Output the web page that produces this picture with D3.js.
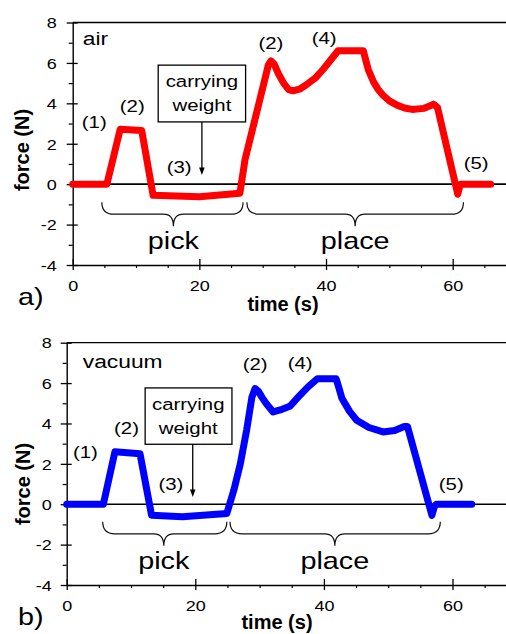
<!DOCTYPE html>
<html>
<head>
<meta charset="utf-8">
<script src="https://cdn.jsdelivr.net/npm/d3@7"></script>
<style>
  body { margin: 0; background: #fff; }
  svg { display: block; }
  text { font-family: "Liberation Sans", Arial, sans-serif; }
</style>
</head>
<body>
<svg id="chart" width="506" height="634"></svg>
<script>
// axis ticks
const yTicks = [-4, -2, 0, 2, 4, 6, 8];
const yMinor = [-3, -1, 1, 3, 5, 7];
const xTicks = [0, 20, 40, 60];
const xMinor = [5, 10, 15, 25, 30, 35, 45, 50, 55, 65];

// a) air
const airTime  = [0, 5.4, 7.5, 10.9, 12.7, 20, 26.4, 27.2, 30.9, 31.3, 31.8, 32.5, 33.3, 34.1, 34.8, 35.8, 36.9, 38.3, 39.6, 41.9, 45.9, 46.3, 46.7, 47.5, 48.2, 49.0, 50.0, 51.2, 52.4, 53.6, 55.4, 57.0, 57.6, 60.8, 61.2, 66];
const airForce = [0, 0, 2.72, 2.65, -0.55, -0.62, -0.45, 1.2, 5.9, 6.1, 5.95, 5.45, 5.0, 4.68, 4.62, 4.7, 4.92, 5.25, 5.7, 6.6, 6.6, 6.1, 5.64, 5.06, 4.7, 4.4, 4.12, 3.91, 3.77, 3.7, 3.75, 3.95, 3.8, -0.5, 0, 0];

// b) vacuum
const vacTime  = [0, 5.7, 7.5, 11.4, 13.2, 18, 24.9, 26, 27, 28, 28.8, 29.3, 29.8, 30.4, 31, 32.1, 33.5, 34.7, 36, 37.5, 39, 41.9, 42.3, 42.8, 44, 45.1, 47, 49.2, 51, 52.5, 53, 56.8, 57.2, 57.5, 63];
const vacForce = [0, 0, 2.6, 2.5, -0.55, -0.62, -0.46, 0.7, 2.0, 3.7, 5.3, 5.73, 5.6, 5.28, 5.0, 4.57, 4.7, 4.85, 5.3, 5.8, 6.22, 6.22, 5.8, 5.25, 4.6, 4.16, 3.8, 3.58, 3.65, 3.85, 3.85, -0.55, -0.1, 0, 0];

// annotation labels (time, force)
const airNotes = [
  { text: "(1)", t: 3.4, f: 2.77 }, { text: "(2)", t: 9.4, f: 3.56 }, { text: "(3)", t: 16.8, f: 0.54 },
  { text: "(2)", t: 31.3, f: 6.68 }, { text: "(4)", t: 39.7, f: 6.93 }, { text: "(5)", t: 63.7, f: 0.74 }
];
const vacNotes = [
  { text: "(1)", t: 2.9, f: 2.27 }, { text: "(2)", t: 9.3, f: 3.47 }, { text: "(3)", t: 16.2, f: 0.69 },
  { text: "(2)", t: 29.3, f: 6.63 }, { text: "(4)", t: 36.3, f: 6.68 }, { text: "(5)", t: 59.8, f: 0.69 }
];
const phases = ["pick", "place"];

const svg = d3.select("#chart");
const SX = 1.2; // labels in the figure are a bit wide

const panels = [
  {
    name: "air", tag: "a)", color: "#ff0000", time: airTime, force: airForce, notes: airNotes,
    left: 72.7, kx: 6.333, top: 22.5, bottom: 265,
    nameAt: [1.6, 6.88],
    box: { t1: 13.5, t2: 27.3, f1: 5.89, f2: 3.08, tc: 20.4 }, arrow: { t: 20.4, f: 0.45 },
    braces: [{ t1: 4.6, t2: 26.9, tm: 15.9 }, { t1: 27.5, t2: 61.7, tm: 44.6 }], braceF: -0.89,
    yLabelGap: 16, yLabel: [21.7, 150], xLabel: [283, 311], tagAt: [18, 305]
  },
  {
    name: "vacuum", tag: "b)", color: "#0000ff", time: vacTime, force: vacForce, notes: vacNotes,
    left: 66.7, kx: 6.43, top: 342.7, bottom: 585,
    nameAt: [2.5, 6.73],
    box: { t1: 12.2, t2: 25.7, f1: 5.76, f2: 2.97, tc: 18.9 }, arrow: { t: 19.6, f: 0.36 },
    braces: [{ t1: 5.6, t2: 24.9, tm: 15.1 }, { t1: 25.4, t2: 58.1, tm: 41.7 }], braceF: -0.87,
    yLabelGap: 15, yLabel: [23, 484], xLabel: [277, 628.5], tagAt: [18, 625]
  }
];

function label(g, x, y, str, size, anchor, stretch) {
  return g.append("text")
    .attr("transform", `translate(${x},${y}) scale(${stretch},1)`)
    .attr("text-anchor", anchor)
    .style("font-size", size + "px")
    .attr("fill", "#000")
    .text(str);
}

function drawPanel(p) {
  const x = d3.scaleLinear().domain([0, 70]).range([p.left, p.left + 70 * p.kx]);
  const y = d3.scaleLinear().domain([-4, 8]).range([p.bottom, p.top]);
  const g = svg.append("g");

  // top frame + zero line
  g.append("line")
    .attr("x1", x(0)).attr("x2", x(70)).attr("y1", y(8)).attr("y2", y(8))
    .attr("stroke", "#000").attr("stroke-width", 1.3);
  g.append("line")
    .attr("x1", x(0)).attr("x2", x(70)).attr("y1", y(0)).attr("y2", y(0))
    .attr("stroke", "#000").attr("stroke-width", 1.6);

  // y axis
  const ya = g.append("g").attr("transform", `translate(${x(0)},0)`)
    .call(d3.axisLeft(y).tickValues(yTicks).tickSize(6).tickSizeOuter(0).tickFormat(d => String(d)));
  ya.select(".domain").attr("stroke-width", 1.4);
  ya.selectAll(".tick line").attr("x1", 5).attr("stroke-width", 1.3);
  ya.selectAll(".tick text")
    .attr("x", null).attr("dy", "0.35em")
    .attr("transform", `translate(${-p.yLabelGap},0) scale(${SX},1)`)
    .style("font-size", "15px").attr("fill", "#000");
  g.append("g").attr("transform", `translate(${x(0)},0)`)
    .call(d3.axisLeft(y).tickValues(yMinor).tickSize(4).tickFormat(""))
    .call(a => a.select(".domain").remove())
    .selectAll("line").attr("stroke-width", 1.2);

  // x axis
  const xa = g.append("g").attr("transform", `translate(0,${y(-4)})`)
    .call(d3.axisBottom(x).tickValues(xTicks).tickSize(5).tickSizeOuter(0).tickFormat(d => String(d)));
  xa.select(".domain").attr("stroke-width", 1.4);
  xa.selectAll(".tick line").attr("y1", -6).attr("stroke-width", 1.3);
  xa.selectAll(".tick text")
    .attr("y", 15.5)
    .attr("transform", `scale(${SX},1)`)
    .style("font-size", "15px").attr("fill", "#000");
  g.append("g").attr("transform", `translate(0,${y(-4)})`)
    .call(d3.axisBottom(x).tickValues(xMinor).tickSize(3).tickFormat(""))
    .call(a => a.select(".domain").remove())
    .selectAll("line").attr("stroke-width", 1.2);

  // axis titles
  g.append("text")
    .attr("transform", `translate(${p.yLabel[0]},${p.yLabel[1]}) rotate(-90)`)
    .attr("text-anchor", "middle").attr("dy", "0.35em")
    .style("font-size", "20px").style("font-weight", "bold")
    .text("force (N)");
  g.append("text")
    .attr("x", p.xLabel[0]).attr("y", p.xLabel[1])
    .attr("text-anchor", "middle")
    .style("font-size", "20px").style("font-weight", "bold")
    .text("time (s)");
  label(g, p.tagAt[0], p.tagAt[1], p.tag, 24, "start", SX);

  // braces under the curve
  p.braces.forEach((b, i) => {
    const x1 = x(b.t1), x2 = x(b.t2), xm = x(b.tm), y0 = y(p.braceF);
    const path = d3.path();
    path.moveTo(x1, y0);
    path.quadraticCurveTo(x1, y0 + 12, x1 + 12, y0 + 12);
    path.lineTo(xm - 10, y0 + 12);
    path.quadraticCurveTo(xm, y0 + 12, xm, y0 + 24);
    path.quadraticCurveTo(xm, y0 + 12, xm + 10, y0 + 12);
    path.lineTo(x2 - 12, y0 + 12);
    path.quadraticCurveTo(x2, y0 + 12, x2, y0);
    g.append("path").attr("d", path.toString())
      .attr("fill", "none").attr("stroke", "#111").attr("stroke-width", 1.2);
    label(g, xm, y(-3.2), phases[i], 24, "middle", SX);
  });

  // callout box with arrow
  const bx = p.box;
  g.append("rect")
    .attr("x", x(bx.t1)).attr("y", y(bx.f1))
    .attr("width", x(bx.t2) - x(bx.t1)).attr("height", y(bx.f2) - y(bx.f1))
    .attr("fill", "#fff").attr("stroke", "#000").attr("stroke-width", 1.3);
  label(g, x(bx.tc), y(bx.f1) + 22, "carrying", 17, "middle", SX);
  label(g, x(bx.tc), y(bx.f1) + 46, "weight", 17, "middle", SX);
  const ax = x(p.arrow.t), tip = y(p.arrow.f);
  g.append("line")
    .attr("x1", ax).attr("x2", ax).attr("y1", y(bx.f2)).attr("y2", tip - 6)
    .attr("stroke", "#000").attr("stroke-width", 1.3);
  g.append("path")
    .attr("d", `M${ax - 2.8},${tip - 7.5}L${ax + 2.8},${tip - 7.5}L${ax},${tip}Z`)
    .attr("fill", "#000");

  // series
  const line = d3.line().x(d => x(d[0])).y(d => y(d[1]));
  g.append("path")
    .datum(d3.zip(p.time, p.force))
    .attr("d", line)
    .attr("fill", "none")
    .attr("stroke", p.color)
    .attr("stroke-width", 7)
    .attr("stroke-linejoin", "round")
    .attr("stroke-linecap", "round");

  // labels
  label(g, x(p.nameAt[0]), y(p.nameAt[1]), p.name, 19, "start", SX);
  p.notes.forEach(n => label(g, x(n.t), y(n.f), n.text, 17, "middle", SX));
}

panels.forEach(drawPanel);
</script>
</body>
</html>
